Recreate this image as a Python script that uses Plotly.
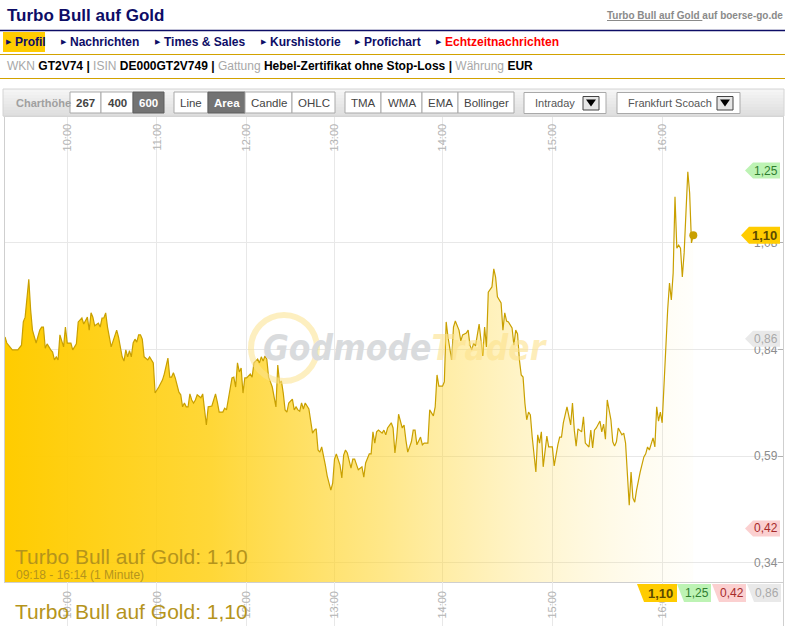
import plotly.graph_objects as go

W, H = 791, 626

# ---------------- data ----------------
bars = [0, 1, 4, 7, 9, 10, 11, 13, 14, 15,
        17, 19, 20, 21, 22, 23, 25, 26, 27, 28,
        29, 30, 32, 33, 34, 36, 37, 39, 40, 42,
        43, 45, 46, 47, 48, 49, 51, 52, 53, 54,
        55, 56, 58, 61, 62, 64, 65, 66, 67, 68,
        69, 70, 71, 72, 73, 74, 75, 76, 78, 79,
        81, 82, 84, 86, 87, 89, 90, 91, 92, 93,
        95, 96, 97, 98, 99, 100, 101, 102, 103, 104,
        105, 107, 108, 109, 110, 111, 113, 114, 115, 116,
        117, 119, 120, 121, 122, 124, 125, 126, 127, 128,
        129, 130, 131, 132, 134, 135, 136, 138, 139, 140,
        141, 142, 143, 144, 145, 146, 148, 149, 150, 151,
        152, 153, 154, 155, 157, 158, 159, 160, 161, 162,
        163, 164, 166, 167, 168, 169, 170, 171, 172, 173,
        174, 175, 176, 178, 179, 180, 181, 183, 184, 185,
        186, 187, 189, 190, 191, 192, 193, 195, 196, 197,
        198, 199, 200, 201, 202, 203, 204, 206, 207, 208,
        209, 211, 212, 213, 214, 215, 217, 218, 219, 220,
        222, 223, 224, 225, 227, 228, 229, 231, 232, 234,
        235, 236, 237, 239, 240, 241, 242, 243, 244, 245,
        246, 248, 249, 250, 252, 253, 254, 255, 256, 257,
        259, 261, 262, 263, 264, 266, 267, 268, 269, 271,
        272, 273, 274, 275, 277, 278, 279, 280, 281, 282,
        283, 284, 285, 286, 287, 288, 290, 291, 292, 293,
        294, 296, 297, 299, 300, 302, 303, 304, 305, 307,
        308, 309, 310, 311, 312, 313, 315, 316, 317, 319,
        320, 321, 322, 323, 325, 326, 327, 328, 329, 331,
        332, 333, 334, 335, 337, 338, 339, 340, 341, 342,
        343, 344, 345, 347, 349, 350, 351, 352, 353, 354,
        355, 356, 357, 358, 359, 360, 361, 362, 363, 364,
        365, 366, 367, 368, 369, 370, 371, 372, 373, 374,
        375, 376]

prices = [0.864, 0.850, 0.834, 0.834, 0.845, 0.899, 0.910, 0.998, 0.927, 0.880,
          0.850, 0.880, 0.887, 0.887, 0.838, 0.848, 0.834, 0.829, 0.811, 0.818,
          0.811, 0.869, 0.841, 0.887, 0.850, 0.850, 0.834, 0.848, 0.899, 0.908,
          0.894, 0.910, 0.880, 0.920, 0.910, 0.890, 0.896, 0.887, 0.908, 0.908,
          0.920, 0.887, 0.841, 0.880, 0.864, 0.818, 0.808, 0.834, 0.818, 0.832,
          0.818, 0.850, 0.859, 0.852, 0.869, 0.869, 0.859, 0.818, 0.811, 0.818,
          0.804, 0.734, 0.748, 0.764, 0.778, 0.815, 0.771, 0.771, 0.781, 0.769,
          0.736, 0.730, 0.702, 0.711, 0.702, 0.702, 0.732, 0.718, 0.711, 0.718,
          0.730, 0.723, 0.732, 0.695, 0.660, 0.702, 0.704, 0.718, 0.732, 0.713,
          0.690, 0.690, 0.699, 0.695, 0.723, 0.769, 0.771, 0.748, 0.804, 0.783,
          0.792, 0.734, 0.769, 0.769, 0.778, 0.771, 0.804, 0.813, 0.804, 0.818,
          0.808, 0.820, 0.813, 0.771, 0.760, 0.748, 0.702, 0.799, 0.757, 0.762,
          0.734, 0.695, 0.690, 0.711, 0.720, 0.695, 0.702, 0.695, 0.692, 0.711,
          0.697, 0.711, 0.697, 0.672, 0.641, 0.648, 0.651, 0.602, 0.597, 0.609,
          0.590, 0.567, 0.542, 0.509, 0.525, 0.581, 0.593, 0.567, 0.537, 0.590,
          0.602, 0.595, 0.560, 0.581, 0.581, 0.567, 0.556, 0.563, 0.539, 0.572,
          0.583, 0.593, 0.593, 0.644, 0.618, 0.644, 0.648, 0.641, 0.648, 0.637,
          0.653, 0.665, 0.653, 0.595, 0.632, 0.685, 0.653, 0.660, 0.625, 0.597,
          0.621, 0.648, 0.648, 0.614, 0.632, 0.614, 0.618, 0.618, 0.695, 0.681,
          0.702, 0.776, 0.750, 0.750, 0.760, 0.899, 0.864, 0.834, 0.811, 0.887,
          0.901, 0.880, 0.855, 0.869, 0.873, 0.880, 0.845, 0.834, 0.850, 0.843,
          0.894, 0.820, 0.887, 0.841, 0.968, 0.980, 1.022, 1.003, 0.957, 0.943,
          0.880, 0.920, 0.901, 0.899, 0.885, 0.845, 0.880, 0.871, 0.811, 0.776,
          0.771, 0.711, 0.672, 0.690, 0.683, 0.632, 0.551, 0.637, 0.618, 0.644,
          0.563, 0.634, 0.609, 0.609, 0.565, 0.614, 0.632, 0.632, 0.665, 0.702,
          0.683, 0.660, 0.711, 0.648, 0.611, 0.651, 0.644, 0.679, 0.618, 0.609,
          0.648, 0.607, 0.648, 0.653, 0.669, 0.644, 0.662, 0.627, 0.718, 0.672,
          0.621, 0.611, 0.621, 0.653, 0.637, 0.641, 0.618, 0.539, 0.474, 0.551,
          0.491, 0.481, 0.509, 0.551, 0.586, 0.593, 0.609, 0.602, 0.614, 0.630,
          0.609, 0.702, 0.669, 0.690, 0.665, 0.764, 0.864, 0.927, 0.989, 0.950,
          1.012, 1.189, 1.070, 1.077, 1.070, 1.003, 1.059, 1.175, 1.247, 1.198,
          1.082, 1.100]

tick_bars = [34, 83, 132, 180, 239, 299, 359]
tick_labels = ["10:00", "11:00", "12:00", "13:00", "14:00", "15:00", "16:00"]
y_ticks = [0.34, 0.5875, 0.835, 1.0825, 1.33]
y_tick_labels = ["0,34", "0,59", "0,84", "1,08", "1,33"]

day_open, day_high, day_low, last_price = 0.86, 1.25, 0.42, 1.10
instrument = "Turbo Bull auf Gold"
period_text = "09:18 - 16:14 (1 Minute)"

nav_items = ["Profil", "Nachrichten", "Times & Sales", "Kurshistorie", "Profichart", "Echtzeitnachrichten"]
info_labels = ["WKN", "ISIN", "Gattung", "Währung"]
info_values = ["GT2V74", "DE000GT2V749", "Hebel-Zertifikat ohne Stop-Loss", "EUR"]

assert len(bars) == len(prices)


def fmt(v):
    return f"{v:.2f}".replace(".", ",")


# ---------------- helpers (pixel -> paper) ----------------
def px(x):
    return x / W


def py(y):
    return 1 - y / H


FONT = "Liberation Sans, Arial, sans-serif"
shapes = []
annotations = []


def rect(x0, y0, x1, y1, fill, line=None, lw=1):
    shapes.append(dict(type="rect", xref="paper", yref="paper",
                       x0=px(x0), x1=px(x1), y0=py(y1), y1=py(y0),
                       fillcolor=fill, line=dict(color=line or fill, width=lw if line else 0),
                       layer="above"))


def hline(x0, x1, y, color, width=1):
    shapes.append(dict(type="line", xref="paper", yref="paper",
                       x0=px(x0), x1=px(x1), y0=py(y), y1=py(y),
                       line=dict(color=color, width=width), layer="above"))


def poly(points, fill):
    path = "M " + " L ".join(f"{px(x)},{py(y)}" for x, y in points) + " Z"
    shapes.append(dict(type="path", xref="paper", yref="paper", path=path,
                       fillcolor=fill, line=dict(width=0), layer="above"))


def text(x, y, s, size=12, color="#000", anchor="left", family=FONT, yanchor="middle"):
    annotations.append(dict(x=px(x), y=py(y), xref="paper", yref="paper", text=s,
                            showarrow=False, xanchor=anchor, yanchor=yanchor,
                            font=dict(family=family, size=size, color=color)))


# ---------------- header ----------------
NAVY = "#0d0d66"
GOLD_LINE = "#d2a200"
text(5, 15, f"<b>{instrument}</b>", 17, NAVY)
text(785, 15, f"<b><u>{instrument} </u></b><b>auf boerse-go.de</b>", 10, "#8a8a8a", anchor="right")
hline(0, 785, 30.5, NAVY, 1.5)

rect(3, 32, 45, 52, "#ffcc00")
nav_x = [13, 68, 162, 268, 362, 443]
for name, x in zip(nav_items, nav_x):
    col = "#ff0000" if name == "Echtzeitnachrichten" else NAVY
    text(x - 9, 42, "▶", 7, NAVY, family="DejaVu Sans")
    text(x, 42, f"<b>{name}</b>", 12, col)
hline(0, 785, 54.5, GOLD_LINE, 1)

info = " <b>|</b> ".join(
    f"<span style='color:#a8a8a8'>{lab}</span> <b>{val}</b>" for lab, val in zip(info_labels, info_values))
text(5, 66, info, 12, "#000")
hline(0, 785, 78.5, GOLD_LINE, 1)

# ---------------- toolbar ----------------
tb_top, tb_bot = 89, 116
steps = 9
for i in range(steps):
    y0 = tb_top + (tb_bot - tb_top) * i / steps
    y1 = tb_top + (tb_bot - tb_top) * (i + 1) / steps
    g = int(245 - 22 * i / (steps - 1))
    rect(3, y0, 784, y1 + 0.5, f"rgb({g},{g},{g})")
shapes.append(dict(type="rect", xref="paper", yref="paper", x0=px(3), x1=px(784),
                   y0=py(tb_bot), y1=py(tb_top), line=dict(color="#d4d4d4", width=1),
                   fillcolor="rgba(0,0,0,0)", layer="above"))

text(14, 102.5, "<b>Charthöhe</b>", 11, "#a0a0a0")
buttons = [("267", 70, 101, False, True), ("400", 101, 133, False, True), ("600", 133, 164, True, True),
           ("Line", 174, 208, False, False), ("Area", 208, 245, True, True),
           ("Candle", 245, 292, False, False), ("OHLC", 292, 335, False, False),
           ("TMA", 345, 381, False, False), ("WMA", 381, 422, False, False),
           ("EMA", 422, 458, False, False), ("Bollinger", 458, 514, False, False)]
for lab, x0, x1, active, bold in buttons:
    if active:
        rect(x0, 92, x1, 113, "#737373", "#5e5e5e")
        col = "#ffffff"
    else:
        rect(x0, 92, x1, 113, "#ffffff", "#a9a9a9")
        col = "#444444"
    s = f"<b>{lab}</b>" if bold else lab
    text((x0 + x1) / 2, 102.5, s, 11.5, col, anchor="center")

for lab, x0, x1, ax0 in [("Intraday", 524, 606, 583), ("Frankfurt Scoach", 617, 740, 717)]:
    rect(x0, 92.5, x1, 113.5, "#ffffff", "#a9a9a9")
    text(x0 + 9, 102.5, lab, 11, "#555555")
    rect(ax0, 96.5, ax0 + 16, 110, "#e6e6e6", "#444444")
    poly([(ax0 + 3, 99.5), (ax0 + 13, 99.5), (ax0 + 8, 106.5)], "#000000")

# ---------------- watermark ----------------
shapes.append(dict(type="circle", xref="paper", yref="paper",
                   x0=px(251), x1=px(317), y0=py(381), y1=py(315),
                   line=dict(color="rgba(252,226,140,0.55)", width=6), layer="above"))
annotations.append(dict(x=px(261), y=py(348), xref="paper", yref="paper", showarrow=False,
                        xanchor="left", yanchor="middle",
                        text="<span style='color:#d9dbdd'>Godmode</span>"
                             "<span style='color:rgba(253,226,140,0.6)'>Trader</span>",
                        font=dict(family="DejaVu Sans Condensed, Liberation Sans Narrow, DejaVu Sans",
                                  size=35, weight="bold", style="italic")))

# ---------------- in-chart legend ----------------
LEG = "#b5941c"
text(13, 556, f"{instrument}: {fmt(last_price)}", 21, LEG)
text(14, 575, period_text, 12, LEG)
text(13, 611, f"{instrument}: {fmt(last_price)}", 21, LEG)

# ---------------- right-side price tags (on the y scale) ----------------
tags = [(day_high, "#bdf3b4", "#2f7d2f", False, 30, 38, 8),
        (last_price, "#ffcc00", "#5c4a00", True, 34, 42, 8.5),
        (day_open, "#e9e9e9", "#a9a9a9", False, 30, 38, 8),
        (day_low, "#fbd0d0", "#a62a2a", False, 30, 38, 8)]
for val, bg, fg, bold, body, tip, hh in tags:
    path = f"M {-tip},0 L {-body},{hh} L -3,{hh} L -3,{-hh} L {-body},{-hh} Z"
    shapes.append(dict(type="path", xref="paper", yref="y", xsizemode="pixel", ysizemode="pixel",
                       xanchor=px(783), yanchor=val, path=path, fillcolor=bg,
                       line=dict(width=0), layer="above"))
    s = f"<b>{fmt(val)}</b>" if bold else fmt(val)
    annotations.append(dict(x=px(783 - 3 - body / 2 + 1), y=val, xref="paper", yref="y", text=s,
                            showarrow=False, xanchor="center", yanchor="middle",
                            font=dict(family=FONT, size=13 if bold else 12, color=fg)))

# ---------------- bottom price tags ----------------
btags = [(last_price, "#ffcc00", "#5c4a00", True, 637, 677),
         (day_high, "#bdf3b4", "#2f7d2f", False, 677, 711),
         (day_low, "#fbd0d0", "#a62a2a", False, 712, 746),
         (day_open, "#e9e9e9", "#a9a9a9", False, 747, 781)]
for val, bg, fg, bold, x0, x1 in btags:
    poly([(x0, 584), (x1, 584), (x1, 602), (x0 + 7, 602)], bg)
    s = f"<b>{fmt(val)}</b>" if bold else fmt(val)
    text((x0 + x1) / 2 + 3, 593, s, 13 if bold else 12, fg, anchor="center")

# ---------------- traces ----------------
LINE = "#c9a000"
fig = go.Figure()
fig.add_trace(go.Scatter(
    x=bars, y=prices, mode="lines", line=dict(color=LINE, width=1.2),
    fill="tozeroy",
    fillgradient=dict(type="horizontal", colorscale=[
        [0.0, "rgba(255,204,0,1.0)"],
        [0.3, "rgba(255,208,20,0.85)"],
        [0.55, "rgba(255,212,40,0.55)"],
        [0.75, "rgba(255,215,60,0.28)"],
        [0.9, "rgba(255,220,90,0.12)"],
        [1.0, "rgba(255,230,120,0.03)"]]),
    hoverinfo="skip", showlegend=False))
fig.add_trace(go.Scatter(x=[bars[-1]], y=[prices[-1]], mode="markers",
                         marker=dict(color=LINE, size=8), hoverinfo="skip", showlegend=False))
fig.add_trace(go.Scatter(x=bars, y=prices, xaxis="x2", yaxis="y2", mode="lines",
                         line=dict(width=0), opacity=0, hoverinfo="skip", showlegend=False))

GRID = "#e8e8e8"
xdom = [px(5), px(783)]
fig.update_layout(
    width=W, height=H, margin=dict(l=0, r=0, t=0, b=0),
    paper_bgcolor="#ffffff", plot_bgcolor="#ffffff",
    font=dict(family=FONT),
    xaxis=dict(domain=xdom, range=[0, 425], anchor="y", side="top",
               tickmode="array", tickvals=tick_bars, ticktext=tick_labels,
               tickangle=-90, ticklabelposition="inside", ticks="",
               tickfont=dict(size=11, color="#b4b4b4"),
               showgrid=True, gridcolor=GRID, zeroline=False,
               showline=True, mirror=True, linecolor="#cfcfcf"),
    yaxis=dict(domain=[py(582), py(117)], range=[0.2959, 1.3741], anchor="x", side="right",
               tickmode="array", tickvals=y_ticks, ticktext=y_tick_labels,
               ticks="inside", ticklen=5, tickcolor="#b0b0b0", ticklabelposition="inside",
               tickfont=dict(size=12, color="#8c8c8c"),
               showgrid=True, gridcolor=GRID, zeroline=False,
               showline=True, mirror=True, linecolor="#cfcfcf"),
    xaxis2=dict(domain=xdom, matches="x", anchor="y2", side="top",
                tickmode="array", tickvals=tick_bars, ticktext=tick_labels,
                tickangle=-90, ticklabelposition="inside", ticks="",
                tickfont=dict(size=11, color="#b4b4b4"),
                showgrid=True, gridcolor=GRID, zeroline=False, showline=False),
    yaxis2=dict(domain=[0, py(582)], range=[5, 6], anchor="x2", side="right",
                showticklabels=False, ticks="", showgrid=False, zeroline=False,
                showline=True, linecolor="#cfcfcf"),
    shapes=shapes, annotations=annotations,
)

fig.write_html("out.html", config={"displayModeBar": False},
               post_script="document.body.style.margin='0';")
